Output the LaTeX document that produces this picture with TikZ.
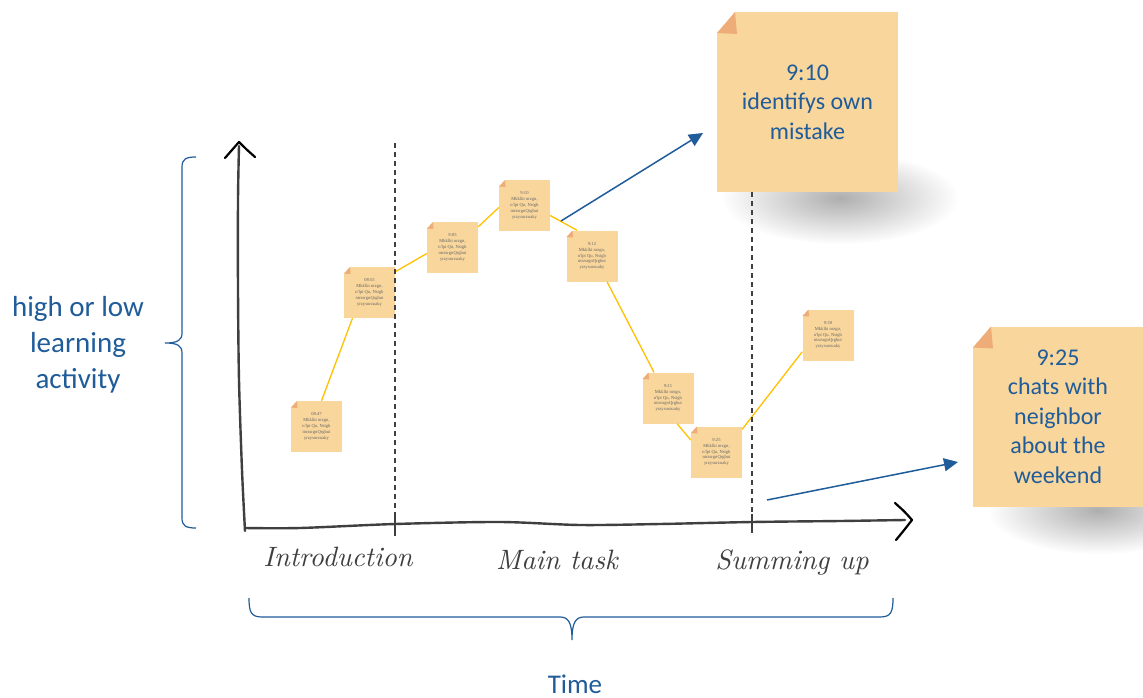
\documentclass[tikz,border=0pt]{standalone}
\usepackage{fontspec}
\setmainfont{Carlito}
\newfontfamily\tinyfont{Liberation Serif}
\newfontfamily\handfont{lmroman10-italic.otf}
\usetikzlibrary{arrows.meta,fadings,calc}
\definecolor{noteC}{HTML}{F9D69C}
\definecolor{foldC}{HTML}{EDAC78}
\definecolor{blueC}{HTML}{1F5C99}
\definecolor{lineY}{HTML}{FFC000}
\definecolor{axisC}{HTML}{3F3F3F}
\tikzfading[name=softshadow, inner color=transparent!25, outer color=transparent!100]
\newcommand\stickytext[1]{#1\\Mkklkt nrzgn,\\n'lpt Qu, Nstgb\\ntrzsrgnQrgbut\\yrzysurzuaky}
\begin{document}
\begin{tikzpicture}[x=1pt,y=-1pt,
  smallnote/.style={fill=noteC, minimum width=51pt, minimum height=51pt, inner sep=0pt,
    align=center, font=\tinyfont\fontsize{4.6}{5.9}\selectfont, text=black!60,
    path picture={
      \fill[white] (path picture bounding box.north west) -- ([xshift=6pt]path picture bounding box.north west)
        -- ([yshift=-6.5pt]path picture bounding box.north west) -- cycle;
      \fill[foldC] ([xshift=6pt]path picture bounding box.north west) -- ([yshift=-6.5pt]path picture bounding box.north west)
        -- ([xshift=6.5pt,yshift=-7pt]path picture bounding box.north west) -- cycle;}},
  bignote/.style={fill=noteC, inner sep=0pt, align=center, text=blueC,
    font=\fontsize{24}{29.5}\selectfont,
    path picture={
      \fill[white] (path picture bounding box.north west) -- ([xshift=18pt]path picture bounding box.north west)
        -- ([yshift=-21pt]path picture bounding box.north west) -- cycle;
      \fill[foldC] ([xshift=18pt]path picture bounding box.north west) -- ([yshift=-21pt]path picture bounding box.north west)
        -- ([xshift=20pt,yshift=-22pt]path picture bounding box.north west) -- cycle;}},
  yline/.style={draw=lineY, line width=1.3pt},
  bluearrow/.style={draw=blueC, line width=1.5pt, -{Triangle[length=14pt,width=13pt]}},
  brace/.style={draw=blueC, line width=1.2pt},
  axis/.style={draw=axisC, line width=2.4pt, line cap=round},
  chevron/.style={draw=black, line width=2.2pt, line cap=round, line join=round},
  divider/.style={draw=axisC, line width=1.2pt, dash pattern=on 5pt off 4pt},
  tick/.style={draw=axisC, line width=2pt},
  handlabel/.style={font=\handfont\fontsize{28}{32}\selectfont, text=axisC},
  bluelabel/.style={text=blueC, align=center, font=\fontsize{29}{36}\selectfont},
]
\useasboundingbox (0,0) rectangle (1143,698);
\fill[white] (0,0) rectangle (1143,698);

% shadows of the large notes
\fill[black!42, path fading=softshadow] (840,198) ellipse [x radius=118, y radius=46];
\fill[black!42, path fading=softshadow] (1098,510) ellipse [x radius=110, y radius=44];

% axes
\draw[axis] plot[smooth] coordinates {(245,531) (242,470) (239,380) (238,290) (238,200) (239,146)};
\draw[axis] plot[smooth] coordinates {(245,528) (300,528) (395,524) (500,522) (580,525) (660,524) (752,522) (840,521) (905,520)};
\draw[chevron] (225,158) .. controls (232,150) .. (239,142) .. controls (246,149) .. (255,157);
\draw[chevron] (895,503) .. controls (905,512) .. (912,520) .. controls (905,529) .. (896,540);
\draw[tick] (395,517) -- (395,536);
\draw[tick] (752,514) -- (752,533);

% braces
\draw[brace] (196,157) .. controls (186,157) and (182,159) .. (182,167) -- (182,333)
  .. controls (182,340) and (178,343) .. (165,343) .. controls (178,343) and (182,346) .. (182,353)
  -- (182,518) .. controls (182,526) and (186,528) .. (196,528);
\draw[brace] (249,598) .. controls (249,612) and (251,617) .. (262,617) -- (560,617)
  .. controls (568,617) and (572,622) .. (572,640) .. controls (572,622) and (576,617) .. (584,617)
  -- (880,617) .. controls (891,617) and (893,612) .. (893,598);

\node[bluelabel] (ylabel) at (78,345) {high or low\\learning\\activity};
\node[text=blueC, inner sep=0pt, font=\fontsize{27}{33}\selectfont, anchor=base] (xlabel) at (575,693) {Time};

\node[handlabel, anchor=base] (intro) at (338,566) {Introduction};
\node[handlabel, anchor=base] (main) at (557,569) {Main task};
\node[handlabel, anchor=base] (sum) at (792,569) {Summing up};

% small sticky notes
\node[smallnote] (n1) at (316.5,426.5) {\stickytext{08:47}};
\node[smallnote] (n2) at (369.5,292.5) {\stickytext{08:55}};
\node[smallnote] (n3) at (452.5,247.5) {\stickytext{9:05}};
\node[smallnote] (n4) at (524.5,205.5) {\stickytext{9:10}};
\node[smallnote] (n5) at (592,256) {\stickytext{9:12}};
\node[smallnote] (n6) at (668,398) {\stickytext{9:21}};
\node[smallnote] (n7) at (716.5,452) {\stickytext{9:25}};
\node[smallnote] (n8) at (828,335) {\stickytext{9:30}};

% yellow connectors
\draw[yline] ($(n1.north)+(5,0)$) -- ($(n2.south)+(-17,0)$);
\draw[yline] ($(n2.north east)+(0,5)$) -- ($(n3.west)+(0,6)$);
\draw[yline] ($(n3.north east)+(0,5)$) -- ($(n4.west)+(0,2)$);
\draw[yline] ($(n4.east)+(0,10)$) -- ($(n5.north)+(-15,0)$);
\draw[yline] ($(n5.south)+(15,0)$) -- ($(n6.north)+(-14,0)$);
\draw[yline] ($(n6.south)+(9,0)$) -- ($(n7.west)+(0,-12)$);
\draw[yline] ($(n7.north east)+(0,3)$) -- ($(n8.south west)+(0,-9)$);

% dividers
\coordinate (d1top) at (395,143);
\coordinate (d1bot) at (395,520);
\coordinate (d2top) at (752,192);
\coordinate (d2bot) at (752,515);
\draw[divider] (d1top) -- (d1bot);
\draw[divider] (d2top) -- (d2bot);

% blue arrows
\coordinate (a1s) at (561,221);
\coordinate (a1e) at (703,133);
\coordinate (a2s) at (767,500);
\coordinate (a2e) at (958,462);
\draw[bluearrow] (a1s) -- (a1e);
\draw[bluearrow] (a2s) -- (a2e);

% large notes
\node[bignote, minimum width=181pt, minimum height=180pt] (b1) at (807.5,102) {9:10\\identifys own\\mistake};
\node[bignote, minimum width=170pt, minimum height=180pt] (b2) at (1058,416.5) {9:25\\chats with\\neighbor\\about the\\weekend};
\end{tikzpicture}
\end{document}
